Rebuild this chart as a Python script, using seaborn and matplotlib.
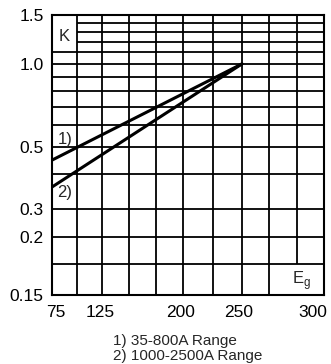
import numpy as np
import pandas as pd
import matplotlib
matplotlib.use("Agg")
import matplotlib.pyplot as plt
import matplotlib.transforms as mtransforms
import seaborn as sns

# data
eg_start = [75, 250]
k_range1 = [0.45, 1.0]   # 1) 35-800A Range
k_range2 = [0.36, 1.0]   # 2) 1000-2500A Range
x_ticks = [75, 125, 200, 250, 300]
y_ticks = [0.15, 0.2, 0.3, 0.5, 1.0, 1.5]
y_tick_labels = ["0.15", "0.2", "0.3", "0.5", "1.0", "1.5"]
x_grid = [100, 125, 150, 175, 200, 225, 250, 275]
y_grid = [0.175, 0.2, 0.3, 0.4, 0.5, 0.6, 0.7, 0.8, 0.9, 1.0, 1.1]
y_grid_top = [1.2, 1.3, 1.4]
notes = ["1) 35-800A Range", "2) 1000-2500A Range"]

df = pd.DataFrame({
    "Eg": eg_start + eg_start,
    "K": k_range1 + k_range2,
    "series": ["1)"] * 2 + ["2)"] * 2,
})

sns.set_style("white")
plt.rcParams["font.family"] = ["Liberation Sans", "DejaVu Sans"]

# the printed chart has hand-drawn, slightly uneven axes: piecewise mappings
y_anchor = np.log10([0.01, 0.15, 0.2, 0.3, 1.5, 100])
y_pos = np.array([-546, 0, 58, 86, 280, 786], dtype=float)
x_anchor = np.array([-1000, 75, 125, 200, 250, 325, 2000], dtype=float)
x_pos = np.array([-1075, 0, 50, 131, 190, 272, 2100], dtype=float)


def yfwd(v):
    v = np.clip(np.asarray(v, dtype=float), 1e-4, None)
    return np.interp(np.log10(v), y_anchor, y_pos)


def yinv(p):
    return 10 ** np.interp(np.asarray(p, dtype=float), y_pos, y_anchor)


def xfwd(v):
    return np.interp(np.asarray(v, dtype=float), x_anchor, x_pos)


def xinv(p):
    return np.interp(np.asarray(p, dtype=float), x_pos, x_anchor)


fig = plt.figure(figsize=(3.31, 3.64), dpi=100)
ax = fig.add_axes([52 / 331, 1 - 295 / 364, 272 / 331, 280 / 364])
ax.set_xscale("function", functions=(xfwd, xinv))
ax.set_yscale("function", functions=(yfwd, yinv))
ax.set_xlim(75, 325)
ax.set_ylim(0.15, 1.5)

# grid
ax.vlines(x_grid, 0.15, 1.5, color="black", lw=1.3, zorder=1)
ax.vlines([300], 0.175, 1.5, color="black", lw=1.3, zorder=1)
ax.hlines(y_grid, 75, 325, color="black", lw=1.3, zorder=1)
ax.hlines(y_grid_top, 100, 325, color="black", lw=1.3, zorder=1)

sns.lineplot(data=df, x="Eg", y="K", hue="series", palette=["black", "black"],
             lw=2.2, legend=False, ax=ax, zorder=3)

ax.text(87, 1.26, "K", fontsize=12, ha="center", va="center")
ax.text(88, 0.536, "1)", fontsize=12, ha="center", va="center")
ax.text(88, 0.343, "2)", fontsize=12, ha="center", va="center")
ax.text(304, 0.161, r"E$_\mathregular{g}$", fontsize=12, ha="center", va="center")

ax.set_xticks(x_ticks)
ax.set_xticklabels([str(x) for x in x_ticks])
ax.set_yticks(y_ticks)
ax.set_yticklabels(y_tick_labels)
ax.minorticks_off()
ax.tick_params(length=0, labelsize=12.5, colors="black")
ax.tick_params(axis="x", pad=7)
ax.tick_params(axis="y", pad=6)
ax.set_xlabel("")
ax.set_ylabel("")
for s in ax.spines.values():
    s.set_color("black")
    s.set_linewidth(1.5)

# nudge x tick labels the way they sit in the print
shifts = [4, -2, -2, -3, 16]
for lab, dx in zip(ax.get_xticklabels(), shifts):
    lab.set_transform(lab.get_transform()
                      + mtransforms.ScaledTranslation(dx / 100, 0, fig.dpi_scale_trans))

fig.text(113 / 331, 1 - 345 / 364, notes[0], fontsize=11, ha="left", va="baseline")
fig.text(113 / 331, 1 - 360 / 364, notes[1], fontsize=11, ha="left", va="baseline")

fig.savefig("out.png", dpi=100)
